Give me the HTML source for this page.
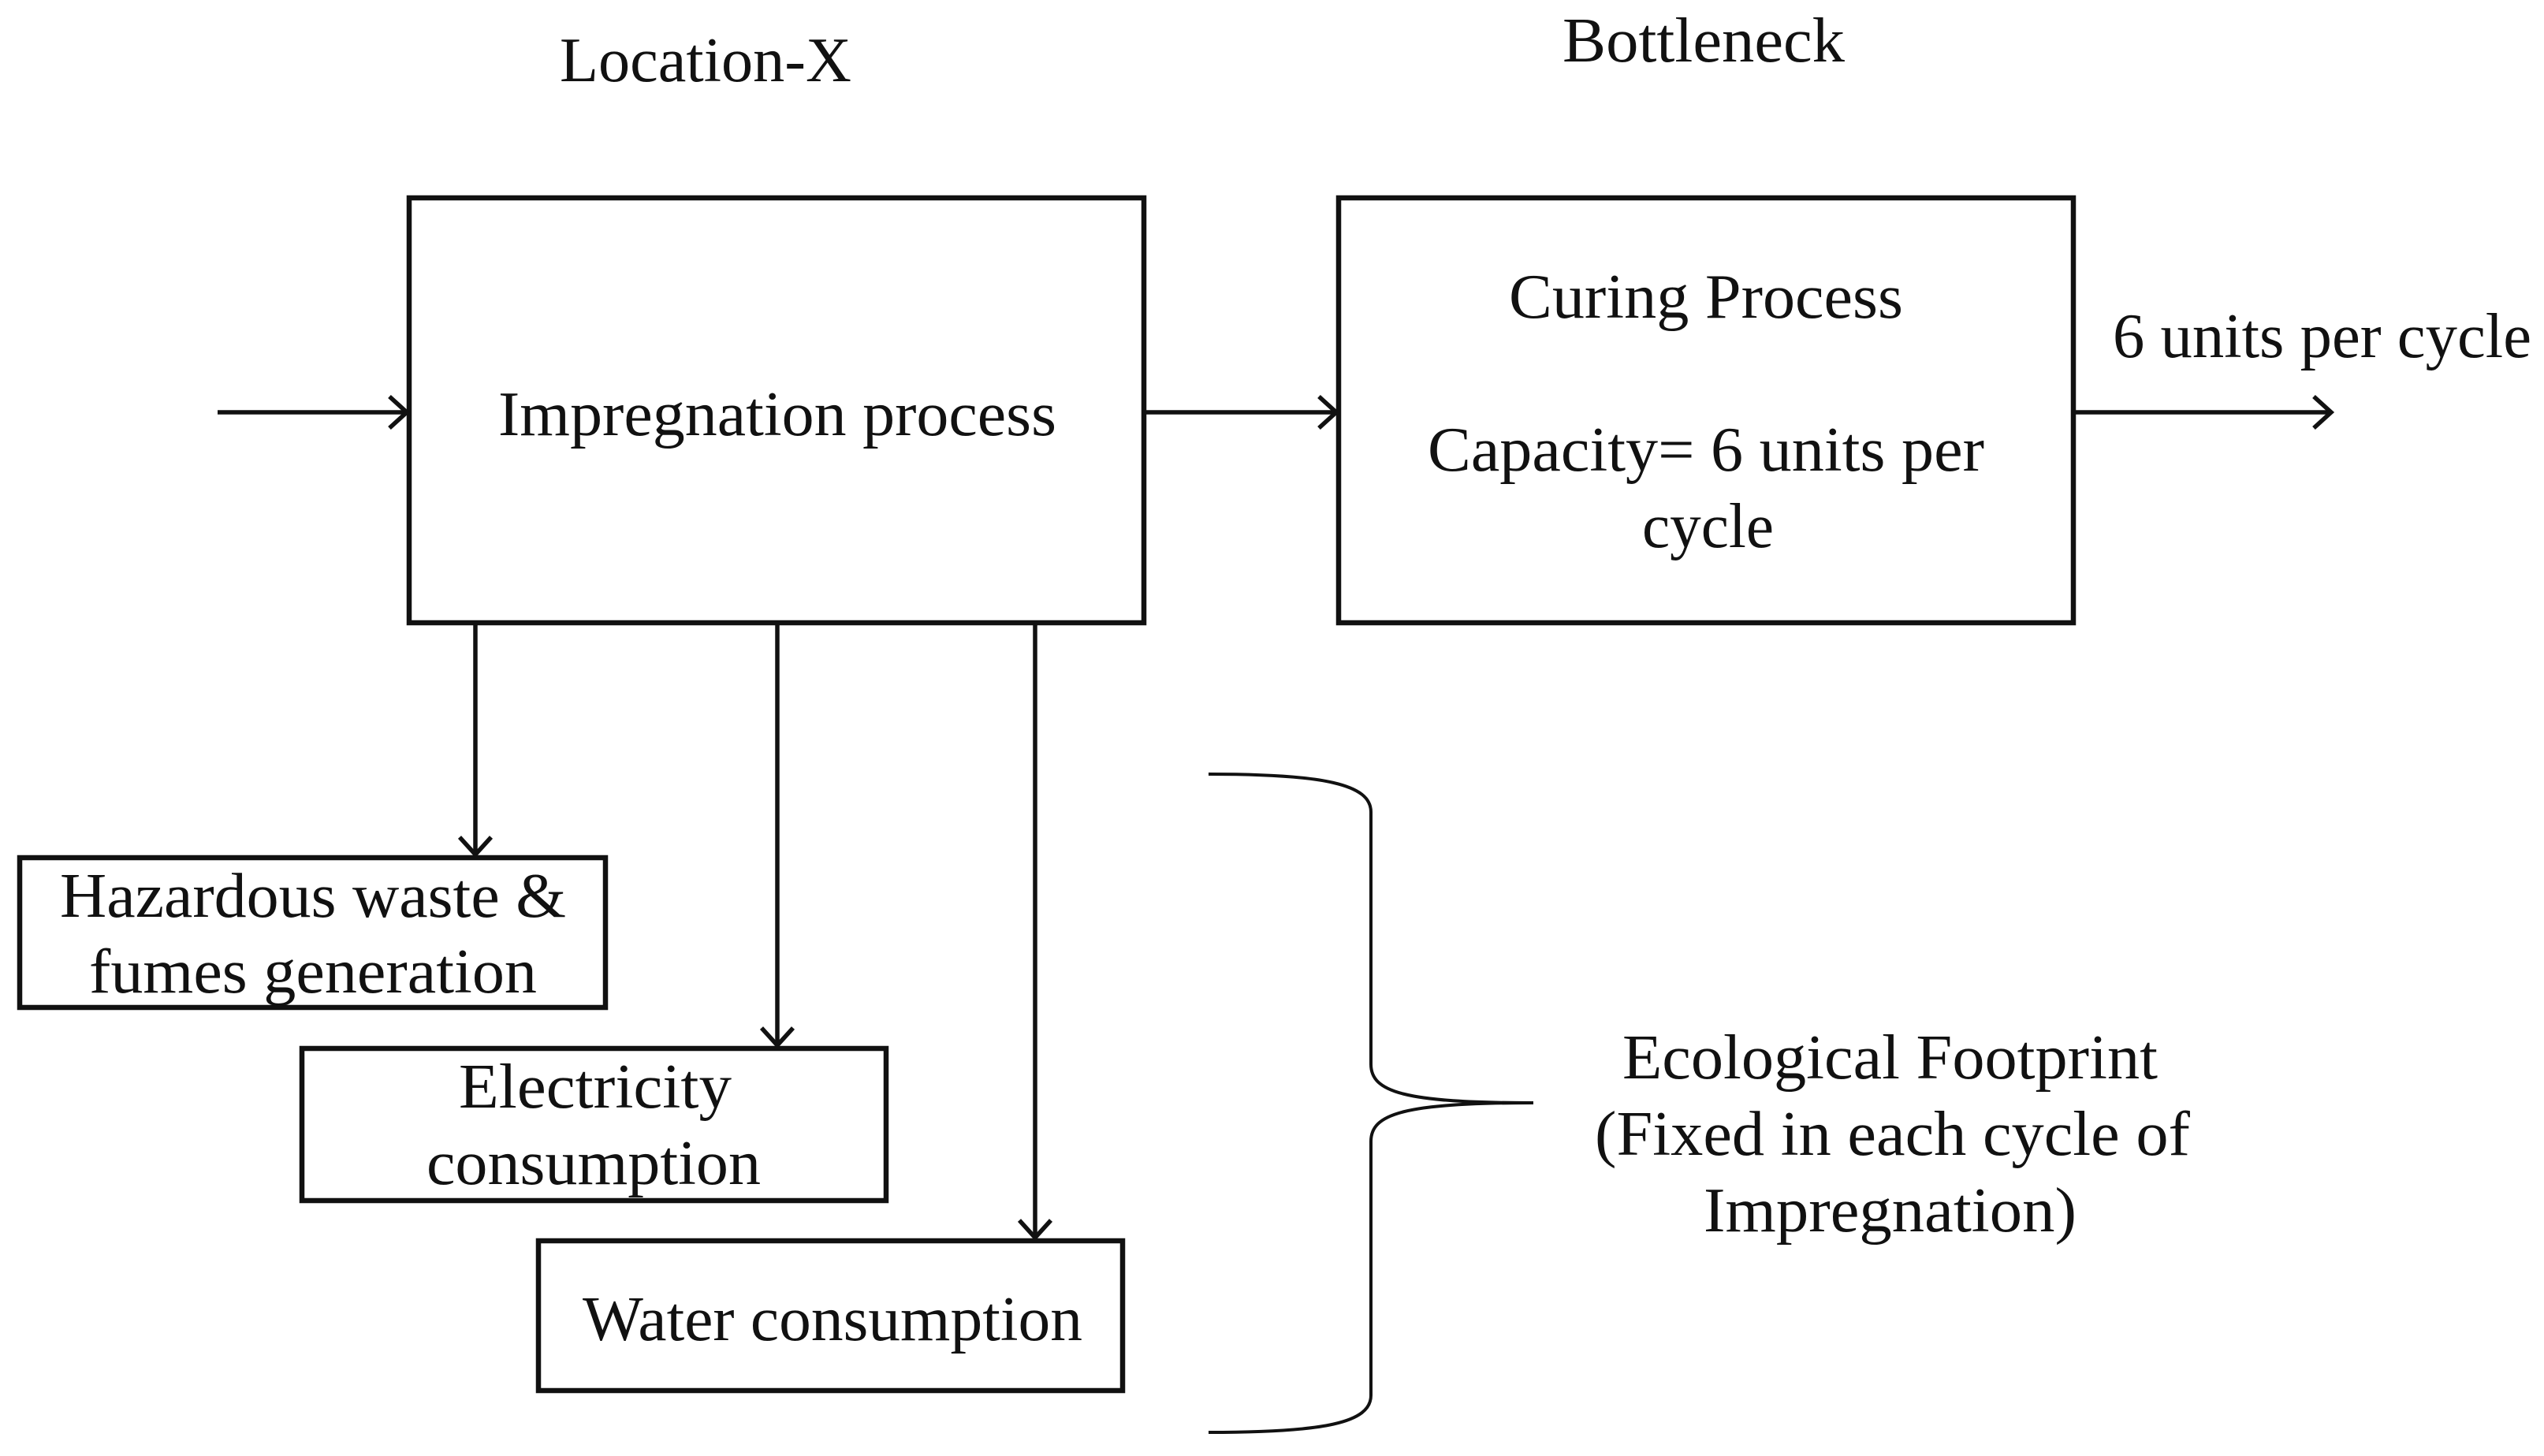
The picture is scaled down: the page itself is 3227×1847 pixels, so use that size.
<!DOCTYPE html>
<html><head><style>html,body{margin:0;padding:0;background:#fff}svg{display:block}</style></head>
<body>
<svg width="3227" height="1847" viewBox="0 0 3227 1847" xmlns="http://www.w3.org/2000/svg" font-family="Liberation Serif, serif" font-size="80" fill="#111">
<g stroke="#111" stroke-width="6.5" fill="none">
<rect x="519" y="251" width="932" height="539"/>
<rect x="1698" y="251" width="932" height="539"/>
<rect x="25" y="1088" width="743" height="190"/>
<rect x="383" y="1330" width="741" height="193"/>
<rect x="683" y="1574" width="741" height="190"/>
</g>
<g stroke="#111" stroke-width="5.5" fill="none">
<line x1="276" y1="523" x2="516" y2="523"/><path d="M494,503 L516,523 L494,543"/>
<line x1="1454" y1="523" x2="1695" y2="523"/><path d="M1673,503 L1695,523 L1673,543"/>
<line x1="2633" y1="523" x2="2957" y2="523"/><path d="M2935,503 L2957,523 L2935,543"/>
<line x1="603" y1="793" x2="603" y2="1084"/><path d="M583,1062 L603,1084 L623,1062"/>
<line x1="986" y1="793" x2="986" y2="1326"/><path d="M966,1304 L986,1326 L1006,1304"/>
<line x1="1313" y1="793" x2="1313" y2="1570"/><path d="M1293,1548 L1313,1570 L1333,1548"/>
</g>
<path d="M1533,982 C1680,982 1739,995 1739,1030 L1739,1350 C1739,1385 1780,1399 1945,1399 C1780,1399 1739,1413 1739,1448 L1739,1770 C1739,1805 1680,1817 1533,1817" fill="none" stroke="#111" stroke-width="4"/>
<g text-anchor="start">
<text x="710" y="103" textLength="370" lengthAdjust="spacingAndGlyphs">Location-X</text>
<text x="1982" y="78" textLength="358" lengthAdjust="spacingAndGlyphs">Bottleneck</text>
<text x="632" y="552" textLength="708" lengthAdjust="spacingAndGlyphs">Impregnation process</text>
<text x="1914" y="403" textLength="500" lengthAdjust="spacingAndGlyphs">Curing Process</text>
<text x="1811" y="597" textLength="706" lengthAdjust="spacingAndGlyphs">Capacity= 6 units per</text>
<text x="2083" y="694" textLength="167" lengthAdjust="spacingAndGlyphs">cycle</text>
<text x="2680" y="453" textLength="531" lengthAdjust="spacingAndGlyphs">6 units per cycle</text>
<text x="76" y="1163" textLength="642" lengthAdjust="spacingAndGlyphs">Hazardous waste &amp;</text>
<text x="113" y="1259" textLength="568" lengthAdjust="spacingAndGlyphs">fumes generation</text>
<text x="582" y="1405" textLength="346" lengthAdjust="spacingAndGlyphs">Electricity</text>
<text x="541" y="1502" textLength="424" lengthAdjust="spacingAndGlyphs">consumption</text>
<text x="739" y="1700" textLength="634" lengthAdjust="spacingAndGlyphs">Water consumption</text>
<text x="2058" y="1368" textLength="679" lengthAdjust="spacingAndGlyphs">Ecological Footprint</text>
<text x="2023" y="1465" textLength="755" lengthAdjust="spacingAndGlyphs">(Fixed in each cycle of</text>
<text x="2161" y="1562" textLength="473" lengthAdjust="spacingAndGlyphs">Impregnation)</text>
</g>
</svg>
</body></html>
